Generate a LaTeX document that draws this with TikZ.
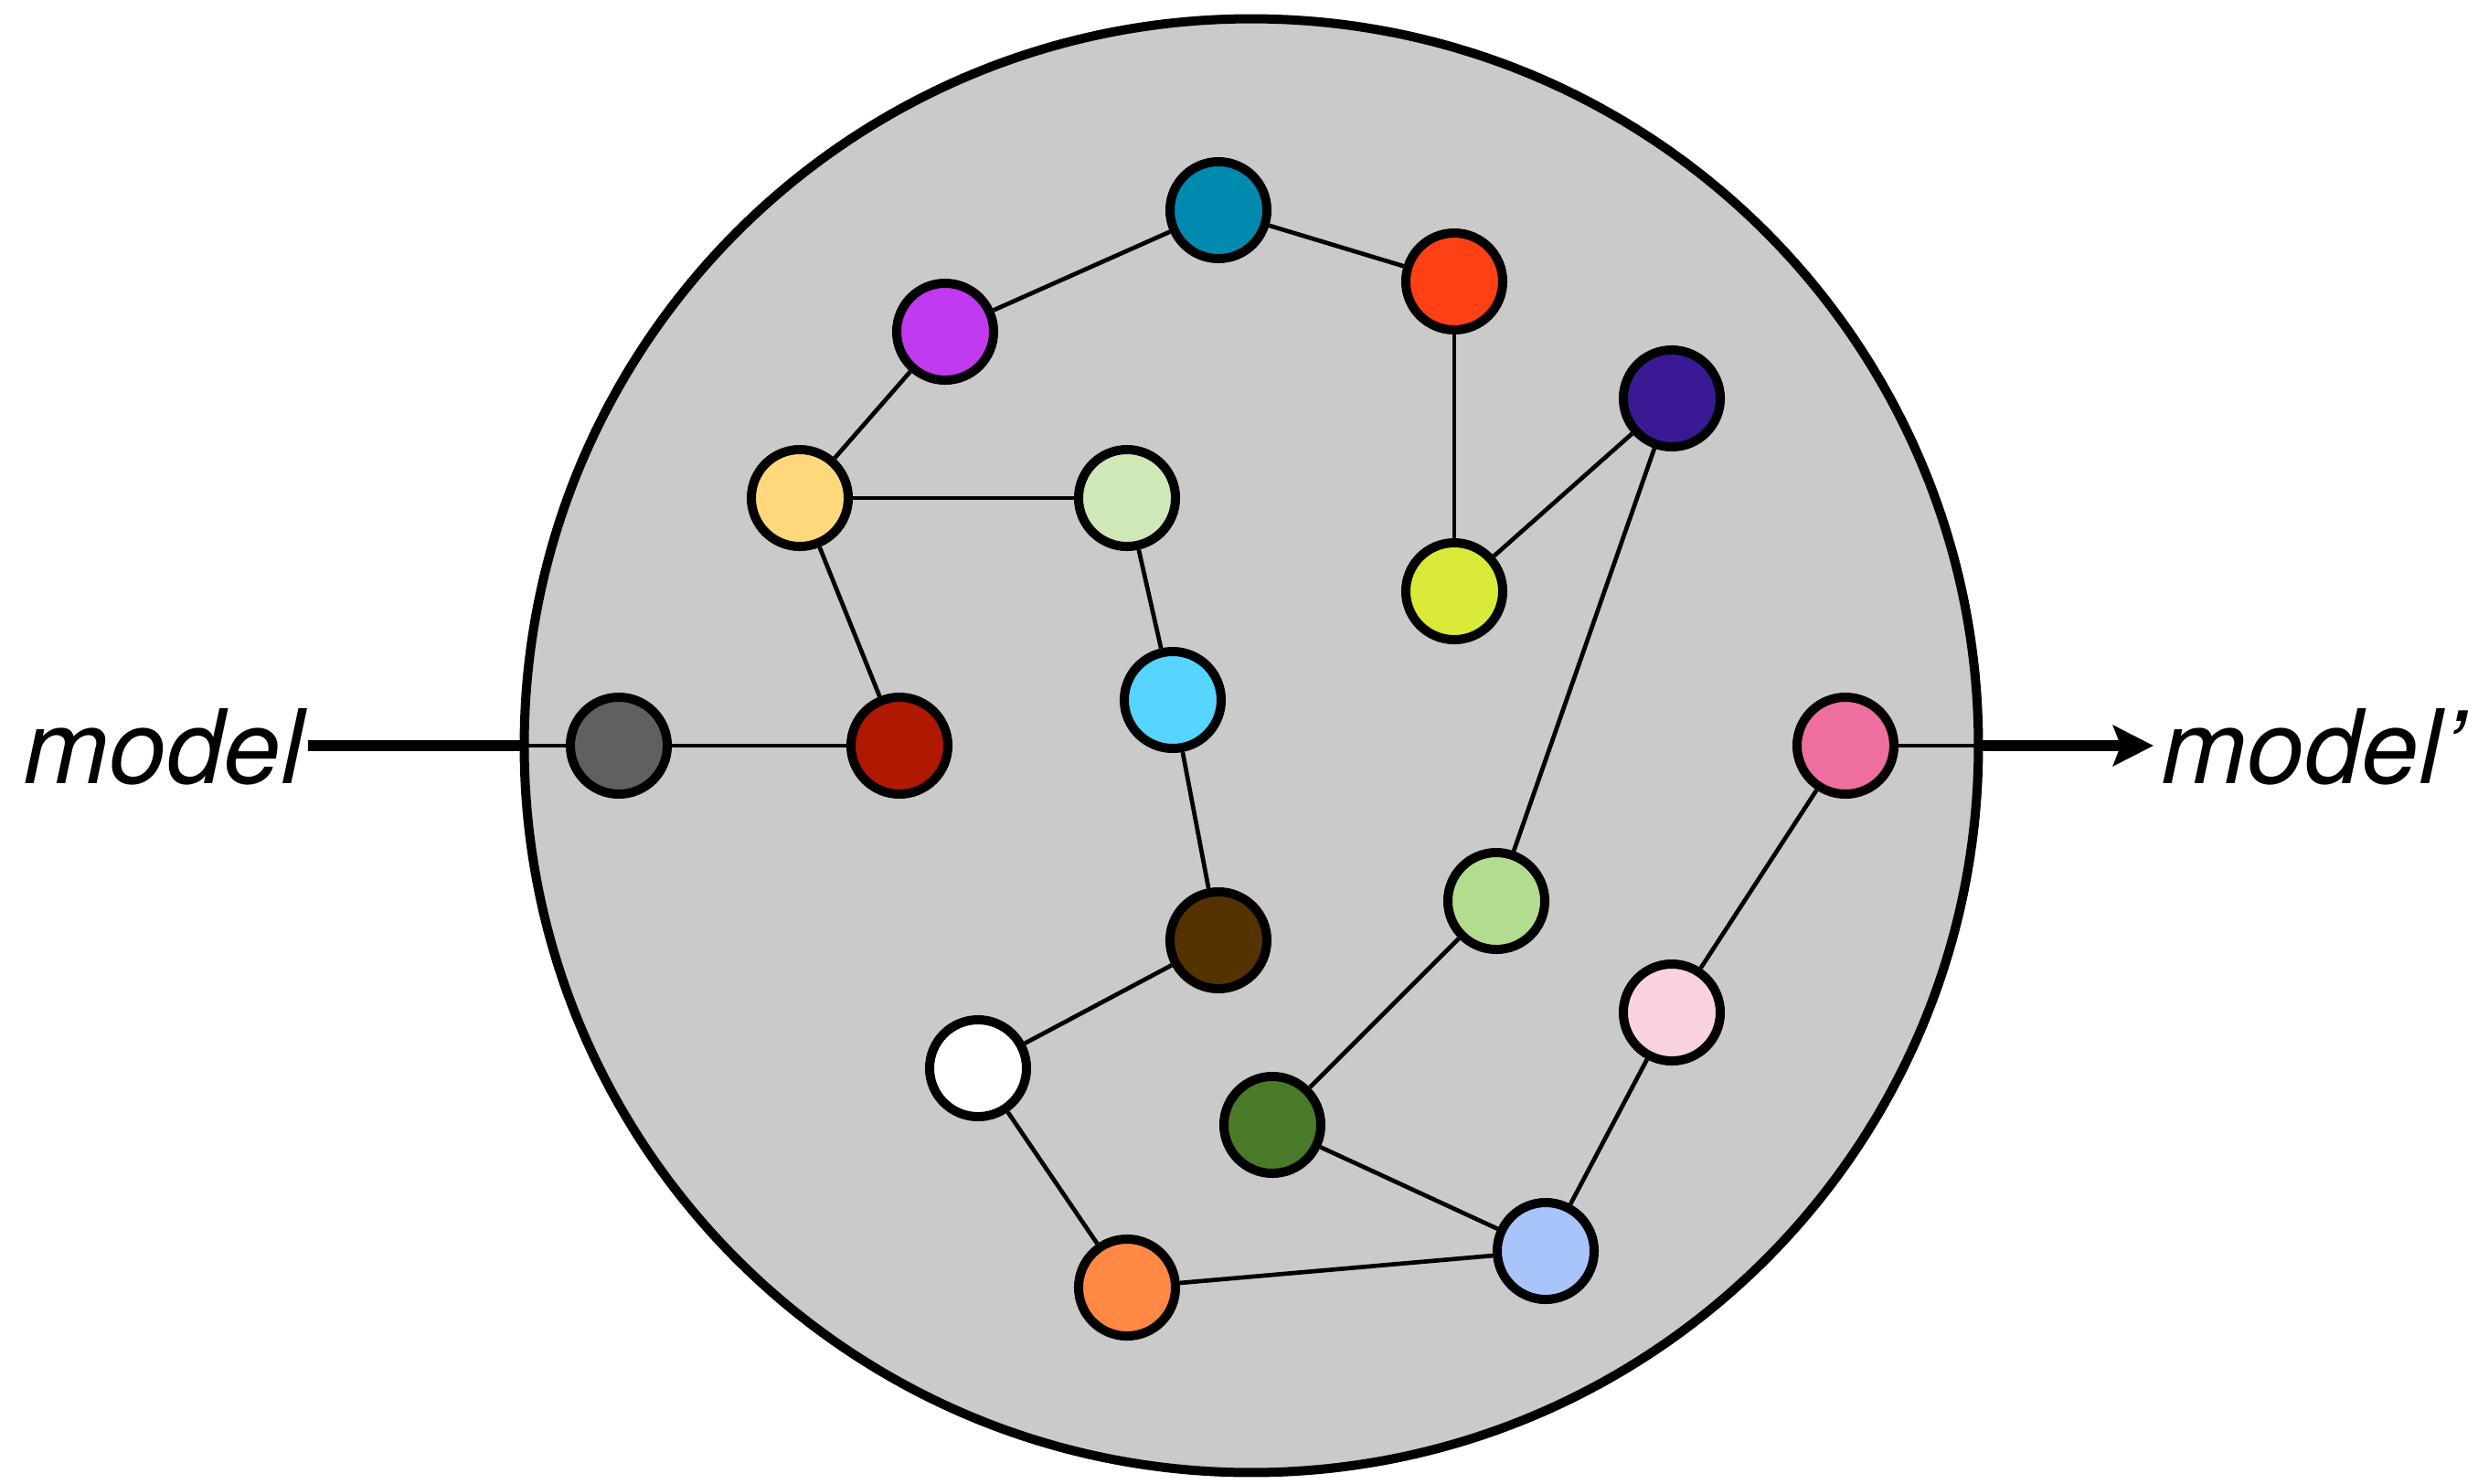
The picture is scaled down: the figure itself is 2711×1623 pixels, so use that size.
\documentclass[tikz,border=0pt]{standalone}
\usepackage{fontspec}
\setmainfont{TeX Gyre Heros}
\usepackage{tikz}
\usetikzlibrary{arrows.meta,positioning}

\definecolor{cellgray}{HTML}{CACACA}
\definecolor{cgray}{HTML}{606060}
\definecolor{cdarkred}{HTML}{B01800}
\definecolor{cyellow}{HTML}{FED87A}
\definecolor{cpurple}{HTML}{C03AF0}
\definecolor{cteal}{HTML}{008AB0}
\definecolor{cred}{HTML}{FF4015}
\definecolor{cmint}{HTML}{CFE8B8}
\definecolor{ccyan}{HTML}{55D5FF}
\definecolor{cbrown}{HTML}{553300}
\definecolor{corange}{HTML}{FF8844}
\definecolor{cforest}{HTML}{4A7A28}
\definecolor{cblue}{HTML}{A8C4FA}
\definecolor{cgreen}{HTML}{B3DD8E}
\definecolor{cindigo}{HTML}{3A1A94}
\definecolor{clime}{HTML}{D9EA38}
\definecolor{cpink}{HTML}{EE6FA0}
\definecolor{crose}{HTML}{F8D3DF}

\begin{document}
\begin{tikzpicture}[x=0.01cm, y=-0.01cm,
    unit/.style={circle, draw, line width=0.1cm, minimum size=1.06cm, inner sep=0pt},
    link/.style={line width=0.047cm},
    feed/.style={line width=0.115cm},
    lbl/.style={inner sep=0pt, font=\fontsize{32}{38}\selectfont\itshape}]
    \useasboundingbox (0,0) rectangle (2711,1623);

    % the cell
    \node[circle, draw, line width=0.1cm, fill=cellgray, minimum size=15.9cm, inner sep=0pt] (cell) at (1369,816) {};

    % units
    \node[unit, fill=cgray] (u1) at (677,816) {};
    \node[unit, fill=cdarkred] (u2) at (984,816) {};
    \node[unit, fill=cyellow] (u3) at (875,545) {};
    \node[unit, fill=cpurple] (u4) at (1034,363) {};
    \node[unit, fill=cteal] (u5) at (1333,230) {};
    \node[unit, fill=cred] (u6) at (1591,308) {};
    \node[unit, fill=clime] (u7) at (1591,647) {};
    \node[unit, fill=cindigo] (u8) at (1829,436) {};
    \node[unit, fill=cmint] (u9) at (1233,545) {};
    \node[unit, fill=ccyan] (u10) at (1283,766) {};
    \node[unit, fill=cbrown] (u11) at (1333,1029) {};
    \node[unit, fill=white] (u12) at (1070,1169) {};
    \node[unit, fill=corange] (u13) at (1233,1409) {};
    \node[unit, fill=cforest] (u14) at (1392,1231) {};
    \node[unit, fill=cblue] (u15) at (1691,1369) {};
    \node[unit, fill=cgreen] (u16) at (1637,986) {};
    \node[unit, fill=crose] (u17) at (1829,1108) {};
    \node[unit, fill=cpink] (u18) at (2019,816) {};

    % links
    \draw[link] (u1) -- (u2);
    \draw[link] (u2) -- (u3);
    \draw[link] (u3) -- (u4);
    \draw[link] (u4) -- (u5);
    \draw[link] (u5) -- (u6);
    \draw[link] (u6) -- (u7);
    \draw[link] (u7) -- (u8);
    \draw[link] (u8) -- (u16);
    \draw[link] (u16) -- (u14);
    \draw[link] (u14) -- (u15);
    \draw[link] (u15) -- (u17);
    \draw[link] (u17) -- (u18);
    \draw[link] (u3) -- (u9);
    \draw[link] (u9) -- (u10);
    \draw[link] (u10) -- (u11);
    \draw[link] (u11) -- (u12);
    \draw[link] (u12) -- (u13);
    \draw[link] (u13) -- (u15);

    % input and output
    \node[lbl, anchor=base east] (src) at (333,857) {model};
    \node[lbl, anchor=base west] (dst) at (2364,857) {model’};
    \coordinate (source) at (337,816);
    \coordinate (sink) at (2356,816);
    \draw[link] (cell.west) -- (u1);
    \draw[link] (u18) -- (cell.east);
    \draw[feed] (source) -- (cell.west);
    \draw[feed, -{Stealth[length=12.5pt, width=12.5pt, inset=2.3pt]}] (cell.east) -- (sink);
\end{tikzpicture}
\end{document}
